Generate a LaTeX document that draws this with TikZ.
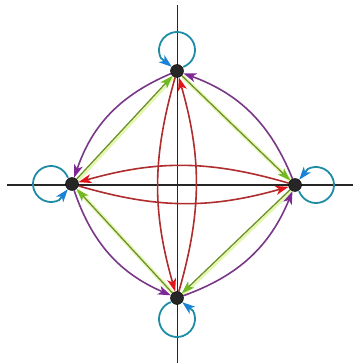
\documentclass[tikz,border=0pt]{standalone}
\usepackage{tikz}
\usetikzlibrary{arrows.meta, backgrounds}

\definecolor{loopcol}{RGB}{30,140,165}
\definecolor{looptip}{RGB}{25,130,215}
\definecolor{arccol}{RGB}{120,55,135}
\definecolor{arctip}{RGB}{125,40,150}
\definecolor{redcol}{RGB}{175,45,45}
\definecolor{redtip}{RGB}{225,20,25}
\definecolor{grncol}{RGB}{105,140,45}
\definecolor{grntip}{RGB}{115,185,35}
\definecolor{glowcol}{RGB}{228,246,175}

\begin{document}
\begin{tikzpicture}[x=1pt, y=1pt,
  vert/.style={circle, fill=black!85, draw=black, minimum size=13pt, inner sep=0pt},
  axis/.style={line width=1.6pt, black!85},
  headtip/.style={-{Stealth[length=13pt, width=9pt, inset=3.5pt, color=#1]}},
  loopc/.style={headtip=looptip, line width=1.8pt, loopcol},
  arcc/.style={headtip=arctip, line width=1.6pt, arccol, bend right=24},
  redc/.style={headtip=redtip, line width=1.6pt, redcol, bend right=16},
  grnc/.style={headtip=grntip, line width=1.2pt, grncol},
  glow/.style={line width=4pt, glowcol, transform canvas={shift={(1pt,-1pt)}}}]

  \useasboundingbox (-177,-178) rectangle (177,185);

  \node[vert] (T) at (0,114) {};
  \node[vert] (L) at (-105,1) {};
  \node[vert] (R) at (118,0) {};
  \node[vert] (B) at (0,-113) {};

  \begin{scope}[on background layer]
    % axes
    \draw[axis] (0.5,180) -- (0.5,-178);
    \draw[axis] (-170,0) -- (176,0);

    % self loops
    \foreach \n/\d in {T/90, L/180, R/0, B/270}
      \draw[loopc] (\n.center) ++(\d:21) ++(\d-160:18)
        arc[start angle=\d-160, end angle=\d+117, radius=18] -- (\n);

    % straight links
    \draw[glow] (L) -- (T);
    \draw[glow] (T) -- (R);
    \draw[glow] (R) -- (B);
    \draw[glow] (B) -- (L);
    \draw[grnc] (L) -- (T);
    \draw[grnc] (T) -- (R);
    \draw[grnc] (R) -- (B);
    \draw[grnc] (B) -- (L);

    % outer arcs
    \draw[arcc] (T) to (L);
    \draw[arcc] (L) to (B);
    \draw[arcc] (B) to (R);
    \draw[arcc] (R) to (T);

    % cross links
    \draw[redc] (T) to (B);
    \draw[redc] (B) to (T);
    \draw[redc] (L) to (R);
    \draw[redc] (R) to (L);
  \end{scope}

\end{tikzpicture}
\end{document}
